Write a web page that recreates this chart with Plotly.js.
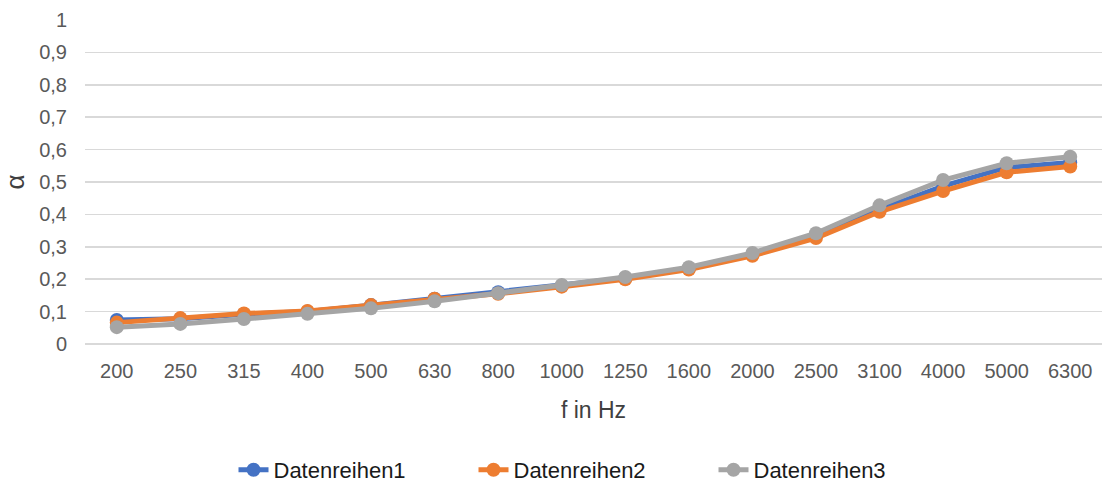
<!DOCTYPE html>
<html>
<head>
<meta charset="utf-8">
<script src="https://cdn.plot.ly/plotly-3.0.1.min.js"></script>
<style>html,body{margin:0;padding:0;background:#fff;}#chart{width:1102px;height:488px;}</style>
</head>
<body>
<div id="chart"></div>
<script>
const categories = ['200','250','315','400','500','630','800','1000','1250','1600','2000','2500','3100','4000','5000','6300'];
const series1 = [0.074,0.078,0.092,0.100,0.120,0.140,0.160,0.180,0.203,0.233,0.276,0.335,0.415,0.487,0.545,0.560];
const series2 = [0.066,0.080,0.094,0.102,0.120,0.140,0.155,0.177,0.200,0.230,0.272,0.327,0.408,0.472,0.530,0.548];
const series3 = [0.052,0.062,0.077,0.093,0.110,0.132,0.157,0.182,0.207,0.237,0.281,0.342,0.428,0.506,0.558,0.578];
const names = ['Datenreihen1','Datenreihen2','Datenreihen3'];
const colors = ['#4472C4','#ED7D31','#A5A5A5'];
const allSeries = [series1, series2, series3];

const traces = allSeries.map((s, i) => ({
  x: categories, y: s, name: names[i], type: 'scatter', mode: 'lines+markers',
  line: {color: colors[i], width: 5},
  marker: {color: colors[i], size: 14}
}));

const layout = {
  width: 1102, height: 488,
  margin: {l: 85, r: 0, t: 20, b: 144},
  paper_bgcolor: '#fff', plot_bgcolor: '#fff',
  separators: ',.',
  font: {family: "'Liberation Sans', Arial, sans-serif", size: 20, color: '#595959'},
  showlegend: true,
  legend: {orientation: 'h', x: 0.5, xanchor: 'center', yref: 'container', y: 0.037, yanchor: 'middle',
           font: {size: 22, color: '#1a1a1a'}, entrywidth: 195, entrywidthmode: 'pixels'},
  xaxis: {type: 'category', range: [-0.5, 15.5], showgrid: false, zeroline: false, showline: false,
          ticks: '', ticklabelstandoff: 13, tickfont: {size: 20},
          title: {text: 'f in Hz', font: {size: 23, color: '#404040'}, standoff: 20}, automargin: false},
  yaxis: {range: [0, 1], dtick: 0.1, showgrid: true, gridcolor: '#d9d9d9', gridwidth: 1.5,
          zeroline: true, zerolinecolor: '#d9d9d9', zerolinewidth: 1.5, showline: false,
          ticks: '', ticklabelstandoff: 17, tickfont: {size: 20},
          title: {text: 'α', font: {size: 26, color: '#404040'}, standoff: 10}, automargin: false}
};

Plotly.newPlot('chart', traces, layout, {displayModeBar: false, staticPlot: true});
</script>
</body>
</html>
